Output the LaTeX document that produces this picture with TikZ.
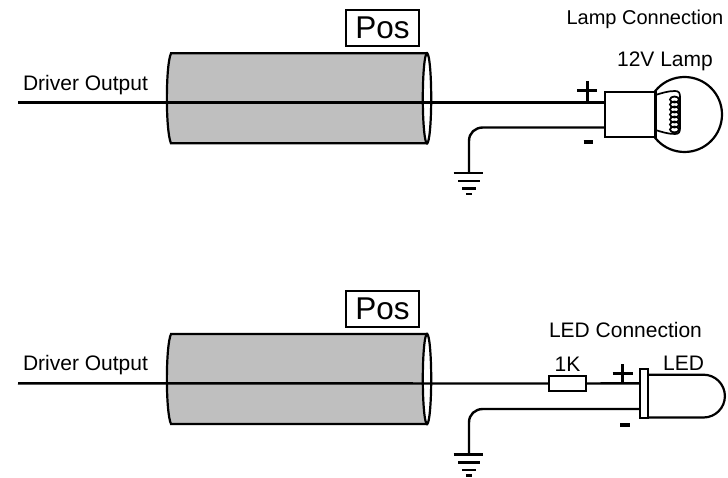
\documentclass[tikz,border=0pt]{standalone}
\usepackage{fontspec}
\setmainfont{Liberation Sans}
\tikzset{
  wire/.style={line width=2.4pt},
  thin wire/.style={line width=1.7pt},
  sign/.style={line width=3pt},
  tube/.style={line width=2.2pt,fill=black!25},
  lbl/.style={inner sep=0pt,font=\fontsize{21}{24}\selectfont},
  poslbl/.style={draw,line width=1.9pt,inner sep=0pt,minimum width=73pt,minimum height=35.7pt,fill=white,font=\fontsize{31.5}{35}\selectfont},
}
\newcommand{\cable}[1]{%
  \begin{scope}[shift={(0,#1)}]
    \draw[tube] (171,0) .. controls (165.5,12) and (165.5,78) .. (171,90) -- (427,90) -- (427,0) -- cycle;
    \draw[line width=2.2pt,fill=white] (427,45) ellipse (4.2pt and 45pt);
  \end{scope}}
\newcommand{\groundsym}[1]{%
  \begin{scope}[shift={(0,#1)}]
    \draw[wire] (453.5,0) -- (483,0);
    \draw[wire] (458,8) -- (479.5,8);
    \draw[wire] (462,15.5) -- (476,15.5);
    \draw[line width=2.6pt] (466,21) -- (472,21);
  \end{scope}}
\begin{document}
\begin{tikzpicture}[x=1pt,y=-1pt]
\useasboundingbox (0,0) rectangle (728,478);
% ---- top
\cable{53.3}
\coordinate (a0) at (18,102.7);
\coordinate (a1) at (605,102.7);
\draw[wire] (a0) -- (a1);
\node[poslbl] (pos1) at (382.5,28) {Pos};
\node[lbl] (drv1) at (85.5,85) {Driver Output};
\node[lbl,anchor=east,font=\fontsize{20}{24}\selectfont] (lampc) at (723.5,19) {Lamp Connection};
\node[lbl] (lampn) at (665,61) {12V Lamp};
\draw[line width=2.2pt] (684.5,114.5) circle (37.5pt);
\node[draw,line width=2.2pt,fill=white,minimum width=50.5pt,minimum height=45pt,inner sep=0pt] (sock) at (630.3,114.8) {};
\draw[thin wire] (655.5,95) .. controls (662,93) and (668,91) .. (675,91) .. controls (679,91) and (680,93) .. (680,97) -- (680,128) .. controls (680,132) and (679,134) .. (675,134) .. controls (668,134) and (662,132) .. (655.5,130);
\foreach \yy in {99.5,104.5,...,130} \draw[line width=1.8pt] (674.5,\yy) ellipse (4.5pt and 3pt);
\coordinate (b0) at (483,127.5);
\coordinate (b1) at (605,127.5);
\coordinate (g1) at (469,173);
\draw[wire] (b1) -- (b0) .. controls (475,127.5) and (469,133) .. (469,141) -- (g1);
\groundsym{173}
\draw[sign] (577,90.6) -- (597,90.6) (587.4,81) -- (587.4,102);
\draw[line width=3.4pt] (583.5,142) -- (593,142);
% ---- bottom
\cable{334}
\coordinate (c0) at (18,383.3);
\node[poslbl] (pos2) at (382.5,309) {Pos};
\node[lbl] (drv2) at (85.5,365) {Driver Output};
\node[lbl] (ledc) at (625.5,330) {LED Connection};
\node[lbl] (oneK) at (567.5,364) {1K};
\node[lbl] (ledn) at (683.5,363) {LED};
\node[draw,line width=1.9pt,fill=white,minimum width=37.3pt,minimum height=15.6pt,inner sep=0pt] (res) at (567.6,383.5) {};
\coordinate (c1) at (640,383.3);
\draw[wire] (c0) -- (res.west);
\draw[wire] (res.east) -- (c1);
\draw[line width=2.2pt] (648,374.7) -- (703.5,374.7) arc[start angle=90,end angle=-90,radius=21.4pt] -- (648,417.5);
\node[draw,line width=1.9pt,fill=white,minimum width=8pt,minimum height=48.7pt,inner sep=0pt] (flange) at (644,393.3) {};
\coordinate (d0) at (483,409);
\coordinate (g2) at (469,454.5);
\draw[wire] (flange.west |- d0) -- (d0) .. controls (475,409) and (469,414.5) .. (469,422.5) -- (g2);
\groundsym{454.5}
\draw[sign] (612.5,373.3) -- (633,373.3) (622.7,364) -- (622.7,383);
\draw[line width=3.4pt] (620,425) -- (629.5,425);
\end{tikzpicture}
\end{document}
